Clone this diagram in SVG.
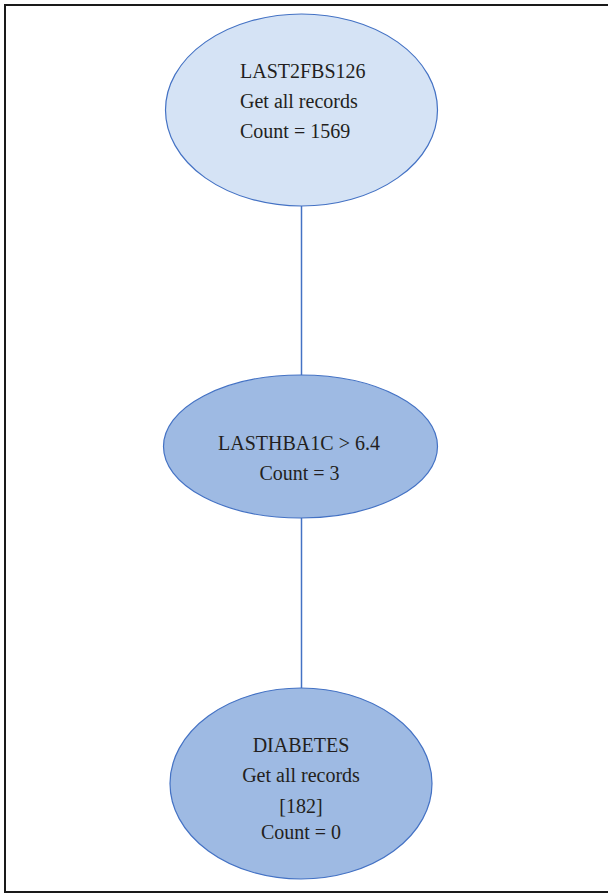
<svg xmlns="http://www.w3.org/2000/svg" width="608" height="894" viewBox="0 0 608 894">
<style>
.frame{fill:none;stroke:#1a1a1a;stroke-width:2}
.n{stroke:#4472C4;stroke-width:1.2}
.light{fill:#D5E3F5}
.dark{fill:#9EBAE3}
.edge{stroke:#4472C4;stroke-width:1.5;fill:none}
text{font-family:"Liberation Serif","Times New Roman",serif;font-size:20px;fill:#231F20}
.c{text-anchor:middle}
</style>
<rect width="608" height="894" fill="#ffffff"/>
<path class="frame" d="M608,5 H5 V892 H608"/>
<g id="connectors">
<line class="edge" x1="301.5" y1="206" x2="301.5" y2="375"/>
<line class="edge" x1="301.5" y1="518" x2="301.5" y2="688"/>
</g>
<g id="node1">
<ellipse class="n light" cx="301.5" cy="110" rx="136" ry="96"/>
<text x="240" y="78">LAST2FBS126</text>
<text x="240" y="108">Get all records</text>
<text x="240" y="138">Count = 1569</text>
</g>
<g id="node2">
<ellipse class="n dark" cx="300.5" cy="446.5" rx="137" ry="71.5"/>
<text class="c" x="299" y="450">LASTHBA1C &gt; 6.4</text>
<text class="c" x="299.5" y="480">Count = 3</text>
</g>
<g id="node3">
<ellipse class="n dark" cx="301" cy="783.5" rx="131" ry="95.5"/>
<text class="c" x="301" y="752">DIABETES</text>
<text class="c" x="301" y="782">Get all records</text>
<text class="c" x="301" y="813">[182]</text>
<text class="c" x="301" y="839">Count = 0</text>
</g>
</svg>
